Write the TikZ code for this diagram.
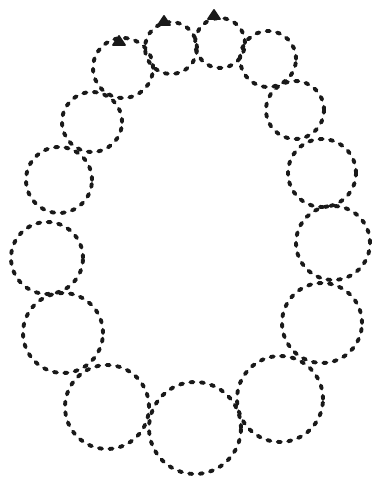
\documentclass[tikz,border=0pt]{standalone}
\usepackage{tikz}

\begin{document}
\begin{tikzpicture}[x=0.02cm, y=0.02cm,
    bead/.style={draw=black!90, line width=2.2pt, dash pattern=on 1.8pt off 4.2pt, line cap=round},
    tip/.style={fill=black!90, draw=black!90, line width=1pt, line join=round}
]
    \useasboundingbox (0,0) rectangle (375,479);
    % ring of dashed circles (pixel coords, y flipped)
    \foreach \cx/\cy/\r in {123/68/30, 171/48/26, 220/43/25, 268/59/28, 295/110/29,
                            322/173/34, 333/243/37, 322/323/40, 280/399/43, 195/428/46,
                            107/407/42, 63/333/40, 47/258/36, 59/180/33, 92/122/30}
        \draw[bead] (\cx,479-\cy) circle[radius=\r];

    % small marks on top
    \foreach \tx/\ty in {119/42, 164/22, 214/16}
        \filldraw[tip] (\tx-6,479-\ty-3) -- (\tx,479-\ty+6) -- (\tx+6,479-\ty-3) -- cycle;
\end{tikzpicture}
\end{document}
